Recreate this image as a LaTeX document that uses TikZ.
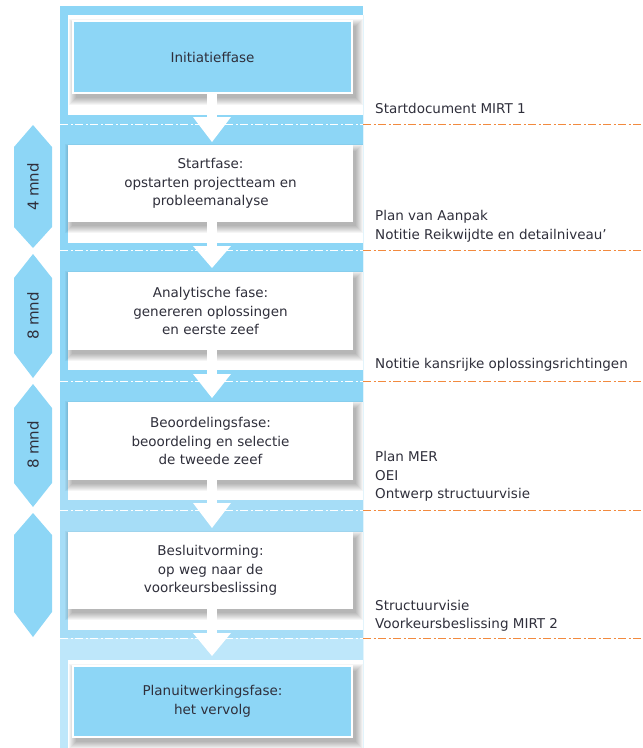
\documentclass[tikz,border=0pt]{standalone}
\usepackage{fontspec}
\setmainfont{DejaVu Sans}
\usetikzlibrary{calc}
\pgfdeclarelayer{bg}
\pgfdeclarelayer{shadowlayer}
\pgfsetlayers{bg,shadowlayer,main}
\definecolor{band}{HTML}{8DD6F6}
\definecolor{bandmid}{HTML}{A6DDF7}
\definecolor{bandlight}{HTML}{BEE7FA}
\definecolor{edgeline}{HTML}{E2F4FC}
\definecolor{txt}{HTML}{2F2F3B}
\definecolor{orangeline}{HTML}{F28A3E}
\tikzset{
  panel/.style={fill=white, draw=none},
  phasebox/.style={draw=none, fill=white, minimum width=285pt, inner sep=0pt, align=center,
    text=txt, font=\fontsize{13.5}{18.5}\selectfont},
  bluebox/.style={phasebox, fill=band, draw=white, line width=1.2pt, minimum width=279pt},
  shadowlayerfill/.style={fill=black, opacity=0.038},
  doctext/.style={anchor=base west, inner sep=0pt, text=txt, font=\fontsize{13.5}{18.5}\selectfont},
  hexshape/.style={fill=band, draw=none},
  hextext/.style={rotate=90, text=txt, font=\fontsize{15}{16}\selectfont, inner sep=0pt},
  whitedash/.style={draw=white, line width=0.9pt, dash pattern=on 8pt off 2.5pt on 2pt off 2.5pt},
  orangedash/.style={draw=orangeline, line width=0.9pt, dash pattern=on 8pt off 2.5pt on 2pt off 2.5pt},
  arrowshape/.style={fill=white, draw=none}
}
\begin{document}
\begin{tikzpicture}[x=1pt,y=-1pt]
\useasboundingbox (0,0) rectangle (643,748);
\begin{pgfonlayer}{bg}
% background band
\fill[band] (60,6) rectangle (363,470);
\fill[bandmid] (60,470) rectangle (363,638);
\fill[bandlight] (60,638) rectangle (363,748);
% panels
\fill[panel] (68,15) rectangle (363,115);
\fill[panel] (68,145) rectangle (363,243);
\fill[panel] (68,272) rectangle (363,370);
\fill[panel] (68,402) rectangle (363,500);
\fill[panel] (68,532) rectangle (363,630);
\fill[panel] (68,660) rectangle (363,748);
\draw[edgeline, line width=0.8pt] (363,15) -- (363,748);
% coordinates for dashed lines
\foreach \i/\y in {1/124,2/250,3/381,4/510,5/638}{
  \coordinate (wl\i) at (60,\y);
  \coordinate (wm\i) at (363,\y);
  \coordinate (wr\i) at (643,\y);
}
\foreach \i in {1,...,5}{
  \draw[whitedash] (wl\i) -- (wm\i);
  \draw[orangedash] (wm\i) -- (wr\i);
}
\end{pgfonlayer}
% boxes
\node[bluebox, minimum height=72pt] (b1) at (212.5,57) {Initiatieffase};
\node[phasebox, minimum height=77pt] (b2) at (210.5,183.5) {Startfase:\\opstarten projectteam en\\probleemanalyse};
\node[phasebox, minimum height=78pt] (b3) at (210.5,311) {Analytische fase:\\genereren oplossingen\\en eerste zeef};
\node[phasebox, minimum height=78pt] (b4) at (210.5,441) {Beoordelingsfase:\\beoordeling en selectie\\de tweede zeef};
\node[phasebox, minimum height=77pt] (b5) at (210.5,570.5) {Besluitvorming:\\op weg naar de\\voorkeursbeslissing};
\node[bluebox, minimum height=71pt] (b6) at (212.5,701.5) {Planuitwerkingsfase:\\het vervolg};
% soft shadows
\begin{pgfonlayer}{shadowlayer}
\foreach \n in {b1,b2,b3,b4,b5,b6}{
  \foreach \k in {0,...,7}{
    \fill[shadowlayerfill] ($(\n.north west)+(4-\k,6-\k)$) rectangle ($(\n.south east)+(3+\k,4+\k)$);
  }
}
\end{pgfonlayer}
% arrows between phases
\foreach \a/\b/\base/\tip in {b1/b2/117/142, b2/b3/246/268, b3/b4/374/398, b4/b5/503/528, b5/b6/633/656}{
  \fill[arrowshape] ([xshift=-5pt]\a.south -| 212,0) rectangle (217,\base);
  \fill[arrowshape] (193,\base) -- (231,\base) -- (212,\tip) -- cycle;
}
% document texts
\node[doctext] (d1) at (375,113) {Startdocument MIRT 1};
\node[doctext] (d2a) at (375,220.5) {Plan van Aanpak};
\node[doctext] (d2b) at (375,239.5) {Notitie Reikwijdte en detailniveau’};
\node[doctext] (d3) at (375,368.5) {Notitie kansrijke oplossingsrichtingen};
\node[doctext] (d4a) at (375,461.5) {Plan MER};
\node[doctext] (d4b) at (375,480.5) {OEI};
\node[doctext] (d4c) at (375,498.5) {Ontwerp structuurvisie};
\node[doctext] (d5a) at (375,610.5) {Structuurvisie};
\node[doctext] (d5b) at (375,628.5) {Voorkeursbeslissing MIRT 2};
% duration hexagons
\foreach \i/\t/\s/\e/\b in {1/125/147/227/248, 2/254/278/353/378, 3/384/408/483/507, 4/513/535/612/637}{
  \fill[hexshape] (14,\s) -- (33,\t) -- (52,\s) -- (52,\e) -- (33,\b) -- (14,\e) -- cycle;
}
\node[hextext] (h1) at (33,187) {4 mnd};
\node[hextext] (h2) at (33,316) {8 mnd};
\node[hextext] (h3) at (33,445) {8 mnd};
\end{tikzpicture}
\end{document}
